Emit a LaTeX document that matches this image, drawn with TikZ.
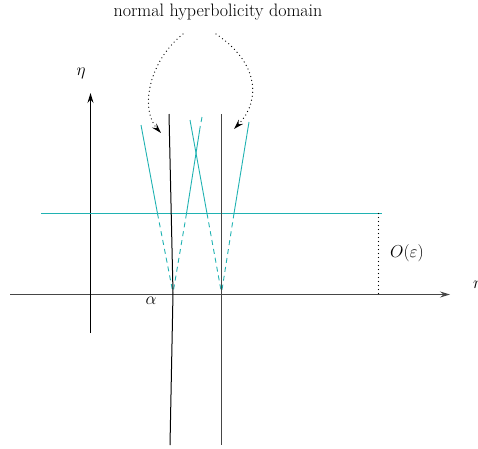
\documentclass[tikz,border=0pt]{standalone}
\usetikzlibrary{arrows.meta}
\definecolor{cyanline}{RGB}{32,178,178}
\definecolor{axisgray}{RGB}{70,70,70}
\begin{document}
\begin{tikzpicture}[x=1pt,y=-1pt,
  axis/.style={draw=axisgray,line width=1pt,-{Stealth[length=10pt,width=6pt,inset=3.5pt]}},
  blk/.style={draw=black,line width=1pt},
  cy/.style={draw=cyanline,line width=0.9pt},
  cyh/.style={draw=cyanline,line width=1.1pt},
  cyd/.style={draw=cyanline,line width=0.9pt,dash pattern=on 5pt off 4pt},
  dots/.style={draw=black,line width=1.3pt,line cap=round,dash pattern=on 0pt off 4pt},
  arc/.style={dots,-{Stealth[length=10pt,width=6pt,inset=3.5pt]}},
  lbl/.style={font=\fontsize{18}{21}\selectfont,inner sep=0pt}]
\useasboundingbox (0,0) rectangle (478,448);
% coordinates
\coordinate (xs) at (10,294.5);
\coordinate (xe) at (450,294.5);
\coordinate (ys) at (90.5,333);
\coordinate (ye) at (90.5,93);
\coordinate (va) at (173,293);
\coordinate (vb) at (221.5,293);
\coordinate (aLt) at (141,125);
\coordinate (aLm) at (157.5,213.5);
\coordinate (aRt) at (200.3,126);
\coordinate (aRm) at (186.5,213.5);
\coordinate (aRtip1) at (202,117);
\coordinate (aRtip2) at (201.1,122);
\coordinate (bLt) at (190,120);
\coordinate (bLm) at (207,213.5);
\coordinate (bRt) at (249,122);
\coordinate (bRm) at (234,213.5);
\coordinate (hl) at (41,213.5);
\coordinate (hr) at (382,213.5);
\coordinate (dt) at (378.5,213.5);
\coordinate (db) at (378.5,294);
\coordinate (l1t) at (169,114);
\coordinate (l1b) at (170,445);
\coordinate (l2t) at (221.5,114);
\coordinate (l2b) at (221.5,445);
\coordinate (c1s) at (183,34);
\coordinate (c1e) at (161,133);
\coordinate (c2s) at (216,34);
\coordinate (c2e) at (234,129);
% axes
\draw[axis] (xs) -- (xe);
\draw[axis,draw=black] (ys) -- (ye);
% cyan horizontal and dotted
\draw[cyh] (hl) -- (hr);
\draw[dots] (dt) -- (db);
% cones
\draw[cy] (aLt) -- (aLm);
\draw[cyd] (aLm) -- (va);
\draw[cy] (aRtip1) -- (aRtip2);
\draw[cy] (aRt) -- (aRm);
\draw[cyd] (aRm) -- (va);
\draw[cy] (bLt) -- (bLm);
\draw[cyd] (bLm) -- (vb);
\draw[cy] (bRt) -- (bRm);
\draw[cyd] (bRm) -- (vb);
% black lines
\draw[blk] (l1t) -- (va) -- (l1b);
\draw[blk,draw=axisgray] (l2t) -- (l2b);
% dotted arcs
\draw[arc] (c1s) .. controls (148,62) and (140,110) .. (c1e);
\draw[arc] (c2s) .. controls (258,62) and (262,100) .. (c2e);
% labels
\node[lbl] (title) at (218,12) {normal hyperbolicity domain};
\node[lbl] (eta) at (81,73) {$\eta$};
\node[lbl] (alpha) at (151,301) {$\alpha$};
\node[lbl] (oe) at (407,253) {$O(\varepsilon)$};
\node[lbl,anchor=west] (r) at (473,285) {$r$};
\end{tikzpicture}
\end{document}
